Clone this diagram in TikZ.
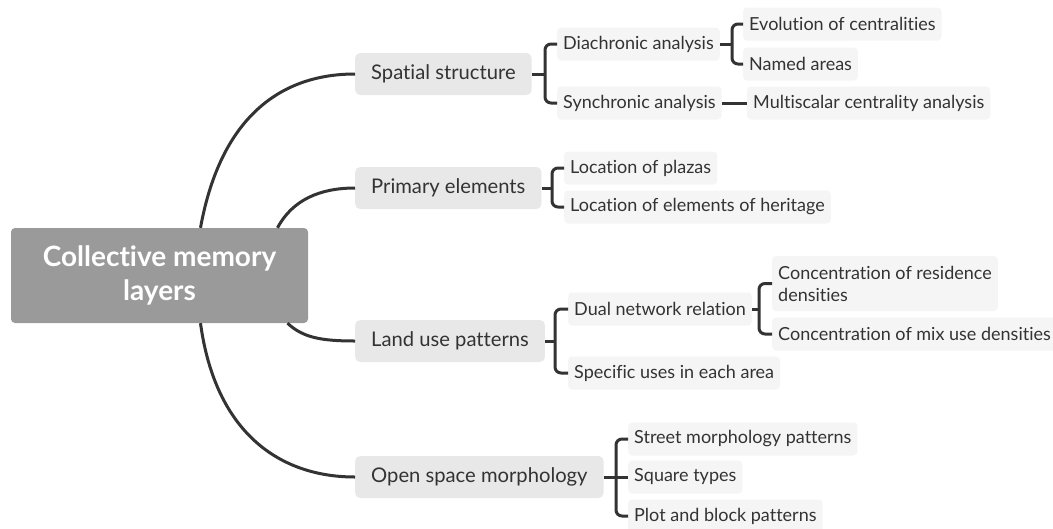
\documentclass[tikz,border=0pt]{standalone}
\usepackage{fontspec}
\setmainfont{Lato}[Ligatures=NoCommon]
\usepackage{tikz}
\usepackage{xcolor}
\definecolor{rootgray}{RGB}{154, 154, 154}
\definecolor{topicgray}{RGB}{232, 232, 232}
\definecolor{subgray}{RGB}{245, 245, 245}
\definecolor{inkgray}{RGB}{51, 51, 51}

\tikzset{
    root/.style={fill=rootgray, rounded corners=4pt, text=white, align=center,
        font=\fontsize{28}{34}\selectfont\bfseries, minimum width=297pt, minimum height=95pt, inner sep=0pt},
    topic/.style={fill=topicgray, rounded corners=5pt, text=inkgray, anchor=west,
        font=\fontsize{20.2}{24}\selectfont, minimum height=42pt, inner xsep=16pt, inner ysep=0pt},
    sub/.style={fill=subgray, rounded corners=4pt, text=inkgray, anchor=west, align=left,
        font=\fontsize{18}{22}\selectfont, minimum height=33pt, inner xsep=6pt, inner ysep=0pt},
    branch/.style={draw=inkgray, line width=3pt},
    limb/.style={branch, rounded corners=6pt}
}

\begin{document}
\begin{tikzpicture}[x=1pt, y=-1pt]
        \useasboundingbox[fill=white] (0,0) rectangle (1053,528);

        % Central topic
        \node[root] (cml) at (159.5,275.5) {Collective memory\\layers};

        % Main topics
        \node[topic] (ss) at (355,74) {Spatial structure};
        \node[topic] (pe) at (355,188) {Primary elements};
        \node[topic] (lu) at (355,341) {Land use patterns};
        \node[topic] (os) at (355,477) {Open space morphology};

        % Subtopics
        \node[sub] (da) at (557,44) {Diachronic analysis};
        \node[sub] (sa) at (557,103) {Synchronic analysis};
        \node[sub] (ec) at (743,24) {Evolution of centralities};
        \node[sub] (na) at (743,64) {Named areas};
        \node[sub] (mc) at (747,103) {Multiscalar centrality analysis};
        \node[sub] (lp) at (564,168) {Location of plazas};
        \node[sub] (lh) at (564,207) {Location of elements of heritage};
        \node[sub] (dn) at (568,309) {Dual network relation};
        \node[sub] (su) at (568,373) {Specific uses in each area};
        \node[sub, minimum height=55pt] (cr) at (772,283.5) {Concentration of residence\\densities};
        \node[sub] (cm) at (772,334) {Concentration of mix use densities};
        \node[sub] (sm) at (628,439) {Street morphology patterns};
        \node[sub] (st) at (628,477) {Square types};
        \node[sub] (pb) at (628,516) {Plot and block patterns};

        % Curved links from the central topic
        \draw[branch] ([xshift=41pt]cml.north) .. controls +(20,-110) and +(-75,0) .. (ss.west);
        \draw[branch] ([xshift=118pt]cml.north) .. controls +(15,-28) and +(-35,0) .. (pe.west);
        \draw[branch] ([xshift=128pt]cml.south) .. controls +(15,14) and +(-35,0) .. (lu.west);
        \draw[branch] ([xshift=41pt]cml.south) .. controls +(15,110) and +(-75,0) .. (os.west);

        % Brackets
        \coordinate (ssb) at ([xshift=-12pt]da.west);
        \draw[branch] (ss.east) -- (ssb |- ss.east);
        \draw[limb] (da.west) -- (ssb) |- (sa.west);

        \coordinate (dab) at ([xshift=-11pt]ec.west);
        \draw[branch] (da.east) -- (dab |- da.east);
        \draw[limb] (ec.west) -- (dab) |- (na.west);

        \draw[branch] (sa.east) -- (mc.west);

        \coordinate (peb) at ([xshift=-12pt]lp.west);
        \draw[branch] (pe.east) -- (peb |- pe.east);
        \draw[limb] (lp.west) -- (peb) |- (lh.west);

        \coordinate (lub) at ([xshift=-13pt]dn.west);
        \draw[branch] (lu.east) -- (lub |- lu.east);
        \draw[limb] (dn.west) -- (lub) |- (su.west);

        \coordinate (dnb) at ([xshift=-13pt]cr.west);
        \draw[branch] (dn.east) -- (dnb |- dn.east);
        \draw[limb] (cr.west) -- (dnb) |- (cm.west);

        \coordinate (osb) at ([xshift=-12pt]sm.west);
        \draw[branch] (os.east) -- (st.west);
        \draw[limb] (sm.west) -- (osb) |- (pb.west);
    \end{tikzpicture}
\end{document}
